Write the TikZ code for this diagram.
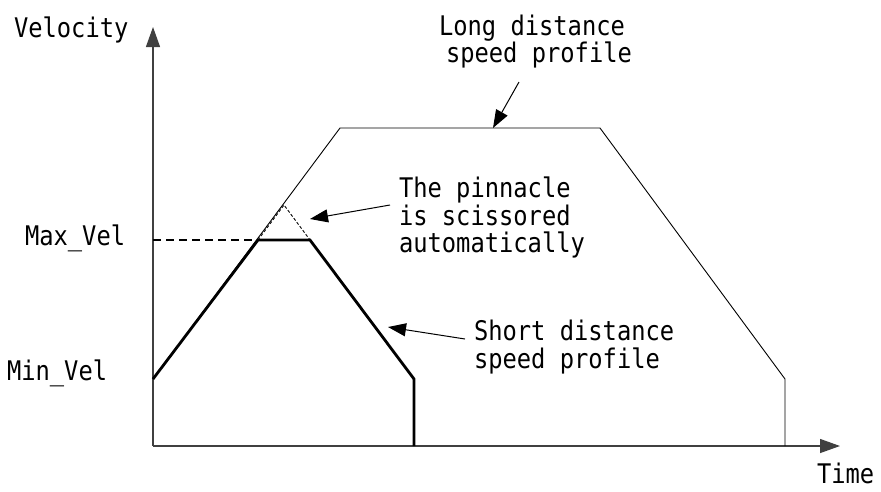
\documentclass[tikz,border=0pt]{standalone}
\usepackage{fontspec}
\newfontfamily\cadfont[FakeStretch=0.88]{DejaVu Sans Mono}
\usetikzlibrary{arrows.meta}
\tikzset{
  lbl/.style={anchor=base west, inner sep=0pt, outer sep=0pt, font=\cadfont\fontsize{27}{28}\selectfont},
  axis/.style={line width=1.3pt, draw=black!75, -{Triangle[length=20pt,width=14pt]}},
  longprof/.style={line width=0.9pt, line join=miter},
  shortprof/.style={line width=2.8pt, line join=miter},
  maxdash/.style={line width=1.6pt, dash pattern=on 8pt off 5pt},
  pindash/.style={line width=0.9pt, dash pattern=on 3pt off 2pt},
  callout/.style={line width=1pt, -{Triangle[length=18pt,width=13pt]}}
}
\begin{document}
\begin{tikzpicture}[x=1pt,y=-1pt]
\useasboundingbox (0,0) rectangle (881,491);
% axes
\coordinate (O) at (153,446);
\coordinate (ytip) at (153,27);
\coordinate (xtip) at (840,446);
\draw[axis] (O) -- (ytip);
\draw[axis] (O) -- (xtip);
% profile points
\coordinate (s0) at (153,379);
\coordinate (s1) at (258,240);
\coordinate (s2) at (310,240);
\coordinate (s3) at (414,379);
\coordinate (s4) at (414,446);
\coordinate (apex) at (284,205);
\coordinate (l1) at (340,128);
\coordinate (l2) at (600,128);
\coordinate (l3) at (785,379);
\coordinate (l4) at (785,446);
\coordinate (ymax) at (153,240);
% long profile
\draw[longprof] (s0) -- (l1) -- (l2) -- (l3) -- (l4);
% pinnacle
\draw[pindash] (s1) -- (apex) -- (s2);
% max vel dashed
\draw[maxdash] (ymax) -- (s1);
% short profile
\draw[shortprof] (s0) -- (s1) -- (s2) -- (s3) -- (s4);
% labels
\node[lbl] (vel) at (14,37) {Velocity};
\node[lbl] (time) at (817,483) {Time};
\node[lbl] (maxv) at (25,245) {Max\_Vel};
\node[lbl] (minv) at (7,380) {Min\_Vel};
\node[lbl] (long1) at (439,35) {Long distance};
\node[lbl] (long2) at (446,62) {speed profile};
\node[lbl] (pin1) at (399,197) {The pinnacle};
\node[lbl] (pin2) at (399,225) {is scissored};
\node[lbl] (pin3) at (399,252) {automatically};
\node[lbl] (short1) at (474,340) {Short distance};
\node[lbl] (short2) at (474,368) {speed profile};
% callouts
\coordinate (ca1) at (519,82);
\coordinate (cb1) at (493,128);
\coordinate (ca2) at (390,205);
\coordinate (cb2) at (310,219);
\coordinate (ca3) at (465,339);
\coordinate (cb3) at (388,327);
\draw[callout] (ca1) -- (cb1);
\draw[callout] (ca2) -- (cb2);
\draw[callout] (ca3) -- (cb3);
\end{tikzpicture}
\end{document}
